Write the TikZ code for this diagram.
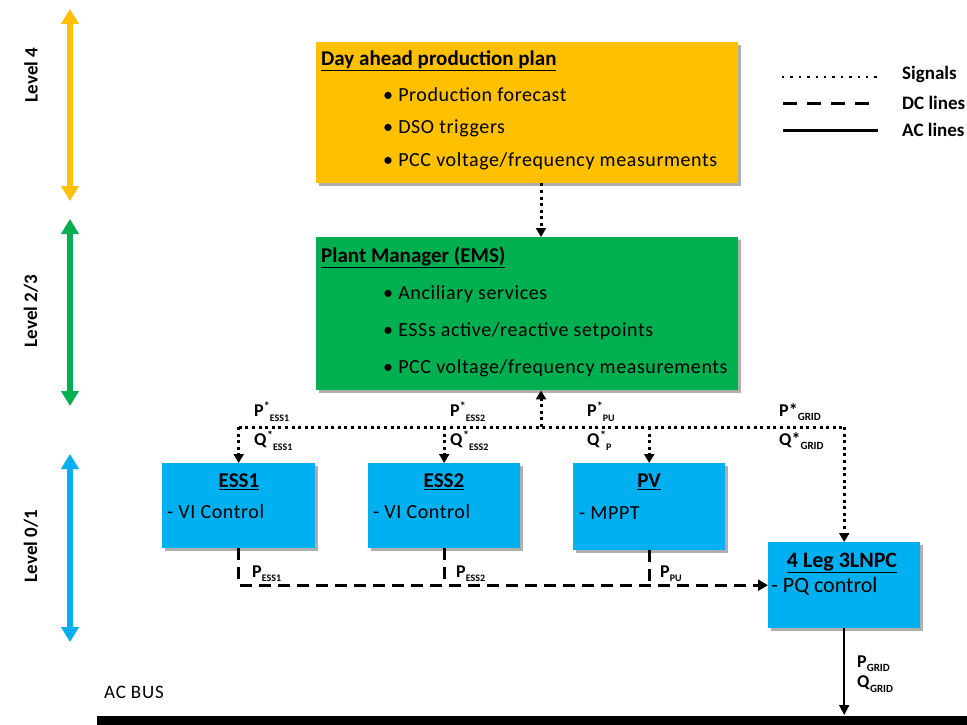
\documentclass[tikz,border=0pt]{standalone}
\usepackage{fontspec}
\setmainfont{Carlito}
\usetikzlibrary{arrows.meta,shadows}
\definecolor{cOr}{HTML}{FFC000}
\definecolor{cGr}{HTML}{00B050}
\definecolor{cBl}{HTML}{00B0F0}
\newcommand\sgl[3]{\textbf{#1}\raisebox{0.7ex}{\fontsize{12}{12}\selectfont\bfseries #2}\raisebox{-0.6ex}{\fontsize{10}{10}\selectfont\bfseries #3}}
\newcommand\sbl[3]{\textbf{#1}\raisebox{-0.5ex}{\fontsize{#3}{#3}\selectfont\bfseries #2}}
\begin{document}
\begin{tikzpicture}[x=1pt,y=-1pt,
  box/.style={draw=none,anchor=north west,inner sep=0pt,
    drop shadow={shadow xshift=3pt,shadow yshift=-3pt,opacity=.45,fill=black!70}},
  btxt/.style={anchor=west,inner sep=0pt,font=\fontsize{20}{24}\selectfont\addfontfeature{LetterSpace=3}},
  ttl/.style={anchor=west,inner sep=0pt,font=\fontsize{21}{24}\selectfont\bfseries},
  lbl/.style={anchor=west,inner sep=0pt,font=\fontsize{18}{20}\selectfont},
  lvl/.style={line width=5.5pt,{Triangle[length=15pt,width=17pt]}-{Triangle[length=15pt,width=17pt]}},
  lvshadow/.style={lvl,black!18,xshift=3pt,yshift=-3pt},
  lvtxt/.style={rotate=90,inner sep=0pt,font=\fontsize{19}{22}\selectfont\bfseries},
  sigline/.style={line width=3pt,dash pattern=on 3pt off 3.6pt},
  sig/.style={sigline,-{Triangle[length=9pt,width=10pt]}},
  dcline/.style={line width=3pt,dash pattern=on 12pt off 7pt},
  dc/.style={dcline,-{Triangle[length=10pt,width=11pt]}},
  ac/.style={line width=2pt,-{Triangle[length=10pt,width=10pt]}},
]
\useasboundingbox (0,0) rectangle (967,725);

% level arrows
\coordinate (l4a) at (70,9); \coordinate (l4b) at (70,201);
\coordinate (l3a) at (70,219); \coordinate (l3b) at (70,406);
\coordinate (l1a) at (70,454); \coordinate (l1b) at (70,642);
\draw[lvshadow] (l4a) -- (l4b);
\draw[lvshadow] (l3a) -- (l3b);
\draw[lvshadow] (l1a) -- (l1b);
\draw[lvl,cOr] (l4a) -- (l4b);
\draw[lvl,cGr] (l3a) -- (l3b);
\draw[lvl,cBl] (l1a) -- (l1b);
\node[lvtxt] (t4) at (31,75) {Level 4};
\node[lvtxt] (t3) at (31,311) {Level 2/3};
\node[lvtxt] (t1) at (31,546) {Level 0/1};

% boxes
\node[box,fill=cOr,minimum width=422pt,minimum height=141pt] (plan) at (316,42) {};
\node[box,fill=cGr,minimum width=422pt,minimum height=153pt] (ems) at (316,237) {};
\node[box,fill=cBl,minimum width=153pt,minimum height=85pt] (ess1) at (162,463) {};
\node[box,fill=cBl,minimum width=152pt,minimum height=85pt] (ess2) at (368,463) {};
\node[box,fill=cBl,minimum width=152pt,minimum height=87pt] (pv) at (573,463) {};
\node[box,fill=cBl,minimum width=152pt,minimum height=86pt] (npc) at (768,542) {};

% box texts
\node[ttl] (plant) at (321,61) {\underline{Day ahead production plan}};
\node[btxt] (pb1) at (383,95) {\textbullet\ Production forecast};
\node[btxt] (pb2) at (383,128) {\textbullet\ DSO triggers};
\node[btxt] (pb3) at (383,161) {\textbullet\ PCC voltage/frequency measurments};
\node[ttl] (emst) at (321,257) {\underline{Plant Manager (EMS)}};
\node[btxt] (eb1) at (383,294) {\textbullet\ Anciliary services};
\node[btxt] (eb2) at (383,331) {\textbullet\ ESSs active/reactive setpoints};
\node[btxt] (eb3) at (383,368) {\textbullet\ PCC voltage/frequency measurements};
\node[ttl,anchor=center] (e1t) at (239,482) {\underline{ESS1}};
\node[btxt] (e1s) at (167,512) {- VI Control};
\node[ttl,anchor=center] (e2t) at (444,482) {\underline{ESS2}};
\node[btxt] (e2s) at (373,512) {- VI Control};
\node[ttl,anchor=center] (pvt) at (649,482) {\underline{PV}};
\node[btxt] (pvs) at (579,513) {- MPPT};
\node[ttl,anchor=center,font=\fontsize{22}{24}\selectfont\bfseries] (npct) at (842,563) {\underline{4 Leg 3LNPC}};
\node[btxt,font=\fontsize{22}{24}\selectfont] (npcs) at (771,586) {- PQ control};

% legend
\coordinate (g1a) at (782,77); \coordinate (g1b) at (878,77);
\coordinate (g2a) at (783,103); \coordinate (g2b) at (878,103);
\coordinate (g3a) at (783,130); \coordinate (g3b) at (878,130);
\draw[line width=2.4pt,dash pattern=on 2.4pt off 6pt] (g1a) -- (g1b);
\draw[line width=3pt,dash pattern=on 14pt off 10pt] (g2a) -- (g2b);
\draw[line width=3pt] (g3a) -- (g3b);
\node[lbl,font=\fontsize{19}{22}\selectfont\bfseries] (lg1) at (902,74) {Signals};
\node[lbl,font=\fontsize{19}{22}\selectfont\bfseries] (lg2) at (902,103) {DC lines};
\node[lbl,font=\fontsize{19}{22}\selectfont\bfseries] (lg3) at (902,130) {AC lines};

% signals
\coordinate (hub) at (541,427);
\draw[sig] (plan.south -| hub) -- (ems.north -| hub);
\draw[sig] (hub) -- (ems.south -| hub);
\draw[sigline] (ess1.north |- hub) -- (npc.north |- hub);
\draw[sig] (ess1.north |- hub) -- (ess1.north);
\draw[sig] (ess2.north |- hub) -- (ess2.north);
\draw[sig] (pv.north |- hub) -- (pv.north);
\draw[sig] (npc.north |- hub) -- (npc.north);
\node[lbl] (p1) at (254,412) {\sgl{P}{*}{ESS1}};
\node[lbl] (q1) at (254,441) {\sgl{Q}{*}{ESS1}};
\node[lbl] (p2) at (450,412) {\sgl{P}{*}{ESS2}};
\node[lbl] (q2) at (450,441) {\sgl{Q}{*}{ESS2}};
\node[lbl] (p3) at (587,412) {\sgl{P}{*}{PU}};
\node[lbl] (q3) at (587,441) {\sgl{Q}{*}{P}};
\node[lbl] (p4) at (779,412) {\textbf{P*}\raisebox{-0.4ex}{\fontsize{11}{11}\selectfont\bfseries GRID}};
\node[lbl] (q4) at (779,441) {\textbf{Q*}\raisebox{-0.4ex}{\fontsize{11}{11}\selectfont\bfseries GRID}};

% DC lines
\draw[dc] (ess1.south) -- (ess1.south |- npc.west) -- (npc.west);
\draw[dcline] (ess2.south) -- (ess2.south |- npc.west);
\draw[dcline] (pv.south) -- (pv.south |- npc.west);
\node[lbl] (d1) at (252,574) {\sbl{P}{ESS1}{10}};
\node[lbl] (d2) at (456,574) {\sbl{P}{ESS2}{10}};
\node[lbl] (d3) at (660,574) {\sbl{P}{PU}{10}};

% AC
\coordinate (busL) at (97,721); \coordinate (busR) at (967,721);
\draw[line width=10pt] (busL) -- (busR);
\draw[ac] (npc.south) -- (npc.south |- 0,715);
\node[lbl] (g1) at (857,664) {\sbl{P}{GRID}{11}};
\node[lbl] (g2) at (857,684) {\sbl{Q}{GRID}{11}};
\node[lbl,font=\fontsize{19}{20}\selectfont\addfontfeature{LetterSpace=4}] (acb) at (104,692) {AC BUS};
\end{tikzpicture}
\end{document}
